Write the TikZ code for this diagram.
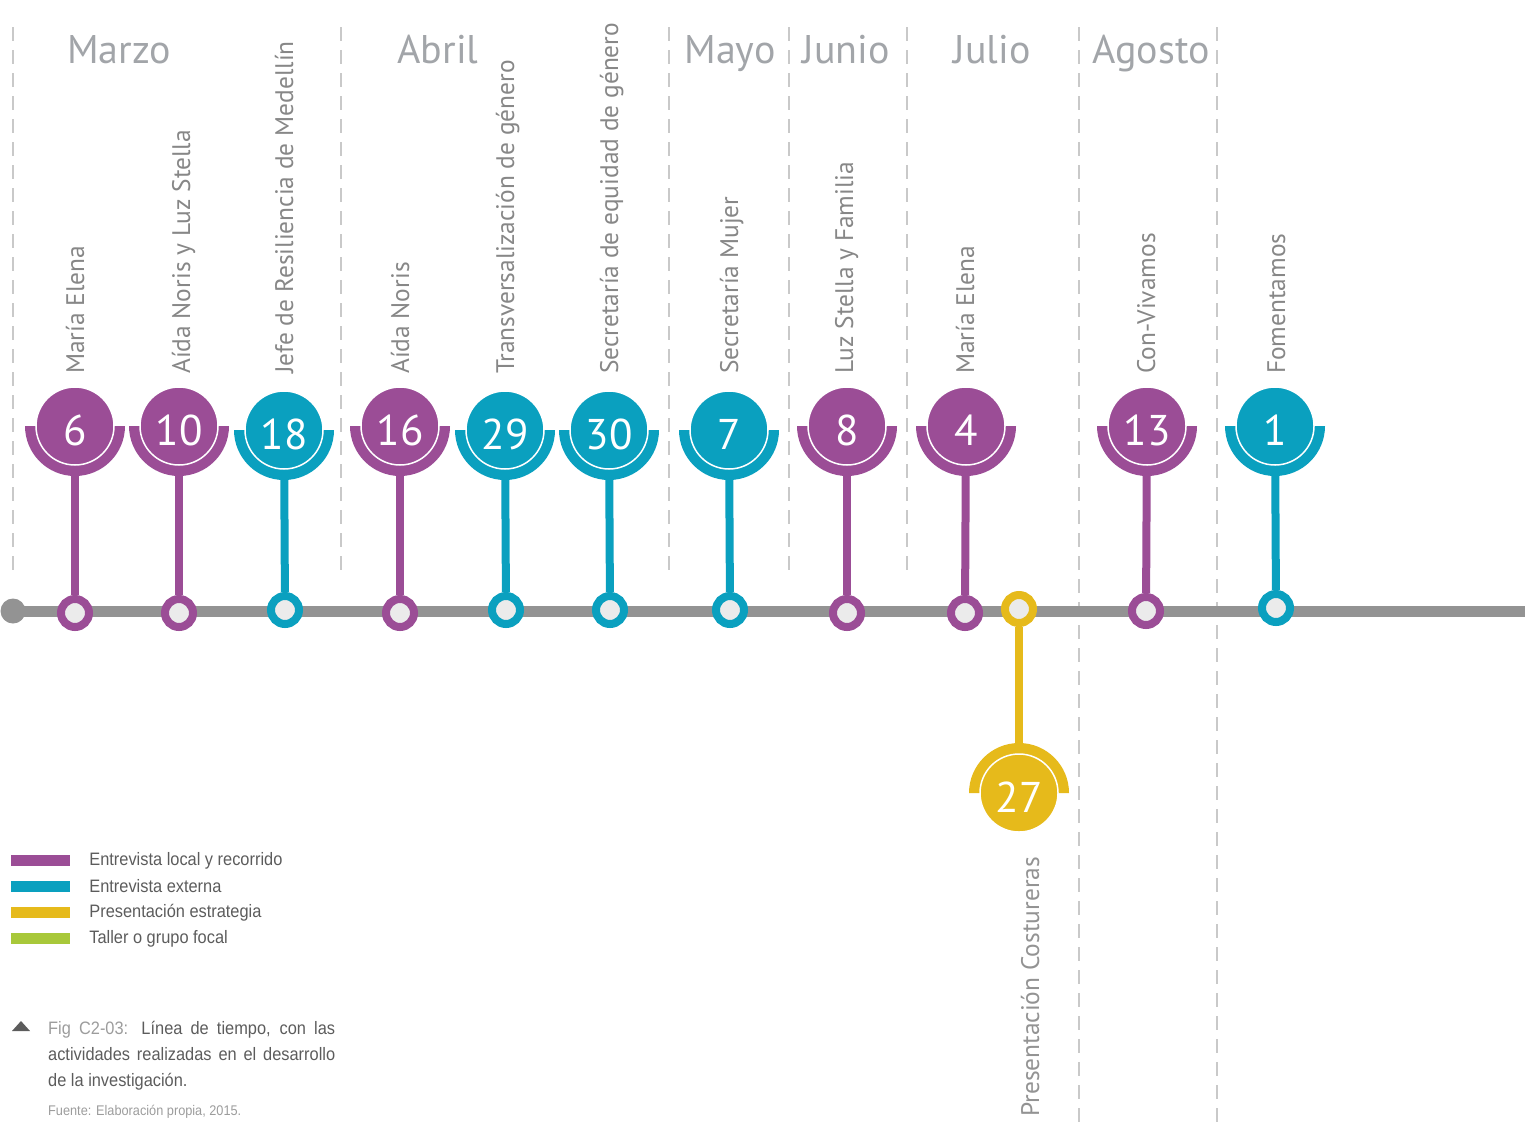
\documentclass[tikz,border=0pt]{standalone}
\usepackage{fontspec}
\setmainfont{PT Sans}
\newfontfamily\narrowfont[FakeStretch=0.91]{Liberation Sans}
\usepackage{tikz}
\usetikzlibrary{positioning}
\usetikzlibrary{backgrounds}
\usepackage{xcolor}
\definecolor{lila}{HTML}{9B4D96}
\definecolor{azul}{HTML}{0AA0BF}
\definecolor{oro}{HTML}{E6BA1B}
\definecolor{verde}{HTML}{A8C83A}
\definecolor{eje}{HTML}{939393}
\definecolor{hueco}{HTML}{EBEBEB}
\definecolor{raya}{HTML}{C9C9C9}
\definecolor{mes}{HTML}{A2A5A9}
\definecolor{letra}{HTML}{878787}
\definecolor{leyenda}{HTML}{5C5C5C}
\definecolor{pieclaro}{HTML}{9C9C9C}

\begin{document}
\begin{tikzpicture}[x=1pt,y=-1pt,
  hub/.style={circle,draw,line width=8pt,fill=hueco,minimum size=28pt,inner sep=0pt},
  badge/.style={circle,draw=white,line width=1.5pt,minimum size=78pt,inner sep=0pt,text=white,
    text height=38pt,text depth=0pt,font=\fontsize{43}{43}\selectfont},
  stem/.style={line width=8pt},
  who/.style={rotate=90,anchor=base west,inner sep=0pt,text=letra,font=\fontsize{25.4}{26}\selectfont},
  monthname/.style={anchor=base,inner sep=0pt,text=mes,font=\fontsize{40}{40}\selectfont},
  monthsep/.style={raya,line width=1.6pt,dash pattern=on 14pt off 9pt},
  swatch/.style={minimum width=59pt,minimum height=11pt,inner sep=0pt},
  legtext/.style={anchor=west,inner sep=0pt,text=leyenda,font=\narrowfont\fontsize{18}{18}\selectfont}]
 \useasboundingbox (0,0) rectangle (1525,1128);

 % months
 \draw[monthsep] (13,27) -- (13,575);
 \draw[monthsep] (341,27) -- (341,575);
 \draw[monthsep] (669,27) -- (669,575);
 \draw[monthsep] (789,27) -- (789,575);
 \draw[monthsep] (907,27) -- (907,575);
 \draw[monthsep] (1079,27) -- (1079,1128);
 \draw[monthsep] (1217,27) -- (1217,1128);
 \node[monthname] (marzo) at (119,63) {Marzo};
 \node[monthname] (abril) at (438,63) {Abril};
 \node[monthname] (mayo) at (730,63) {Mayo};
 \node[monthname] (junio) at (846,63) {Junio};
 \node[monthname] (julio) at (992,63) {Julio};
 \node[monthname] (agosto) at (1151,63) {Agosto};

 % time axis
 \node[circle,fill=eje,minimum size=25pt,inner sep=0pt] (origen) at (13,611) {};
 \coordinate (fin) at (1525,611);
 \draw[eje,line width=11pt] (origen.center) -- (fin);

 % events
 \node[hub,draw=lila] (mar6) at (75,613) {};
 \fill[lila] (25,426) arc[start angle=180,end angle=360,radius=50pt] -- cycle;
 \node[badge,fill=lila] (b6) at (75,426) {6};
 \node[who] (t6) at (84,374) {María Elena};

 \node[hub,draw=lila] (mar10) at (179,613) {};
 \fill[lila] (129,426) arc[start angle=180,end angle=360,radius=50pt] -- cycle;
 \node[badge,fill=lila] (b10) at (179,426) {10};
 \node[who] (t10) at (190,374) {Aída Noris y Luz Stella};

 \node[hub,draw=azul] (mar18) at (285,610) {};
 \fill[azul] (234,430) arc[start angle=180,end angle=360,radius=50pt] -- cycle;
 \node[badge,fill=azul] (b18) at (284,430) {18};
 \node[who] (t18) at (293,374) {Jefe de Resiliencia de Medellín};

 \node[hub,draw=lila] (abr16) at (400,613) {};
 \fill[lila] (350,426) arc[start angle=180,end angle=360,radius=50pt] -- cycle;
 \node[badge,fill=lila] (b16) at (400,426) {16};
 \node[who] (t16) at (409,374) {Aída Noris};

 \node[hub,draw=azul] (abr29) at (506,610) {};
 \fill[azul] (455,430) arc[start angle=180,end angle=360,radius=50pt] -- cycle;
 \node[badge,fill=azul] (b29) at (505,430) {29};
 \node[who] (t29) at (514,374) {Transversalización de género};

 \node[hub,draw=azul] (abr30) at (610,610) {};
 \fill[azul] (559,430) arc[start angle=180,end angle=360,radius=50pt] -- cycle;
 \node[badge,fill=azul] (b30) at (609,430) {30};
 \node[who] (t30) at (618,374) {Secretaría de equidad de género};

 \node[hub,draw=azul] (may7) at (730,610) {};
 \fill[azul] (679,430) arc[start angle=180,end angle=360,radius=50pt] -- cycle;
 \node[badge,fill=azul] (b7) at (729,430) {7};
 \node[who] (t7) at (738,374) {Secretaría Mujer};

 \node[hub,draw=lila] (jun8) at (847,613) {};
 \fill[lila] (797,426) arc[start angle=180,end angle=360,radius=50pt] -- cycle;
 \node[badge,fill=lila] (b8) at (847,426) {8};
 \node[who] (t8) at (853,374) {Luz Stella y Familia};

 \node[hub,draw=lila] (jul4) at (965,613) {};
 \fill[lila] (916,426) arc[start angle=180,end angle=360,radius=50pt] -- cycle;
 \node[badge,fill=lila] (b4) at (966,426) {4};
 \node[who] (t4) at (974,374) {María Elena};

 \node[hub,draw=oro] (jul27) at (1019,609) {};
 \fill[oro] (969,793) arc[start angle=180,end angle=0,radius=50pt] -- cycle;
 \node[badge,fill=oro] (b27) at (1019,793) {27};
 \node[who,text=letra!90] (t27) at (1039,1117) {Presentación Costureras};

 \node[hub,draw=lila] (ago13) at (1146,611) {};
 \fill[lila] (1097,426) arc[start angle=180,end angle=360,radius=50pt] -- cycle;
 \node[badge,fill=lila] (b13) at (1147,426) {13};
 \node[who] (t13) at (1155,374) {Con-Vivamos};

 \node[hub,draw=azul] (sep1) at (1276,608) {};
 \fill[azul] (1225,426) arc[start angle=180,end angle=360,radius=50pt] -- cycle;
 \node[badge,fill=azul] (b1) at (1275,426) {1};
 \node[who] (t1) at (1285,374) {Fomentamos};

 \begin{scope}[on background layer]
  \draw[stem,lila] (b6) -- (mar6);
  \draw[stem,lila] (b10) -- (mar10);
  \draw[stem,azul] (b18) -- (mar18);
  \draw[stem,lila] (b16) -- (abr16);
  \draw[stem,azul] (b29) -- (abr29);
  \draw[stem,azul] (b30) -- (abr30);
  \draw[stem,azul] (b7) -- (may7);
  \draw[stem,lila] (b8) -- (jun8);
  \draw[stem,lila] (b4) -- (jul4);
  \draw[stem,oro] (b27) -- (jul27);
  \draw[stem,lila] (b13) -- (ago13);
  \draw[stem,azul] (b1) -- (sep1);
 \end{scope}

 % legend
 \node[swatch,fill=lila] (lg1) at (40.5,860.5) {};
 \node[swatch,fill=azul] (lg2) at (40.5,886.5) {};
 \node[swatch,fill=oro] (lg3) at (40.5,912.5) {};
 \node[swatch,fill=verde] (lg4) at (40.5,938.5) {};
 \node[legtext,right=19pt of lg1] (lt1) {Entrevista local y recorrido};
 \node[legtext,right=19pt of lg2] (lt2) {Entrevista externa};
 \node[legtext,right=19pt of lg3] (lt3) {Presentación estrategia};
 \node[legtext,right=19pt of lg4] (lt4) {Taller o grupo focal};

 % caption
 \fill[leyenda] (12,1031) -- (30,1031) -- (21,1021) -- cycle;
 \node[anchor=north west,inner sep=0pt,text width=287pt,align=justify,text=leyenda,
   font=\narrowfont\fontsize{18}{26}\selectfont] (pie) at (48,1021)
   {\hyphenpenalty=10000 \textcolor{pieclaro}{Fig C2-03:} Línea de tiempo, con las\linebreak
    actividades realizadas en el desarrollo\linebreak de la investigación.};
 \node[anchor=base west,inner sep=0pt,text=pieclaro,font=\narrowfont\fontsize{14}{14}\selectfont] (fuente) at (48,1115)
   {Fuente: Elaboración propia, 2015.};
\end{tikzpicture}
\end{document}
